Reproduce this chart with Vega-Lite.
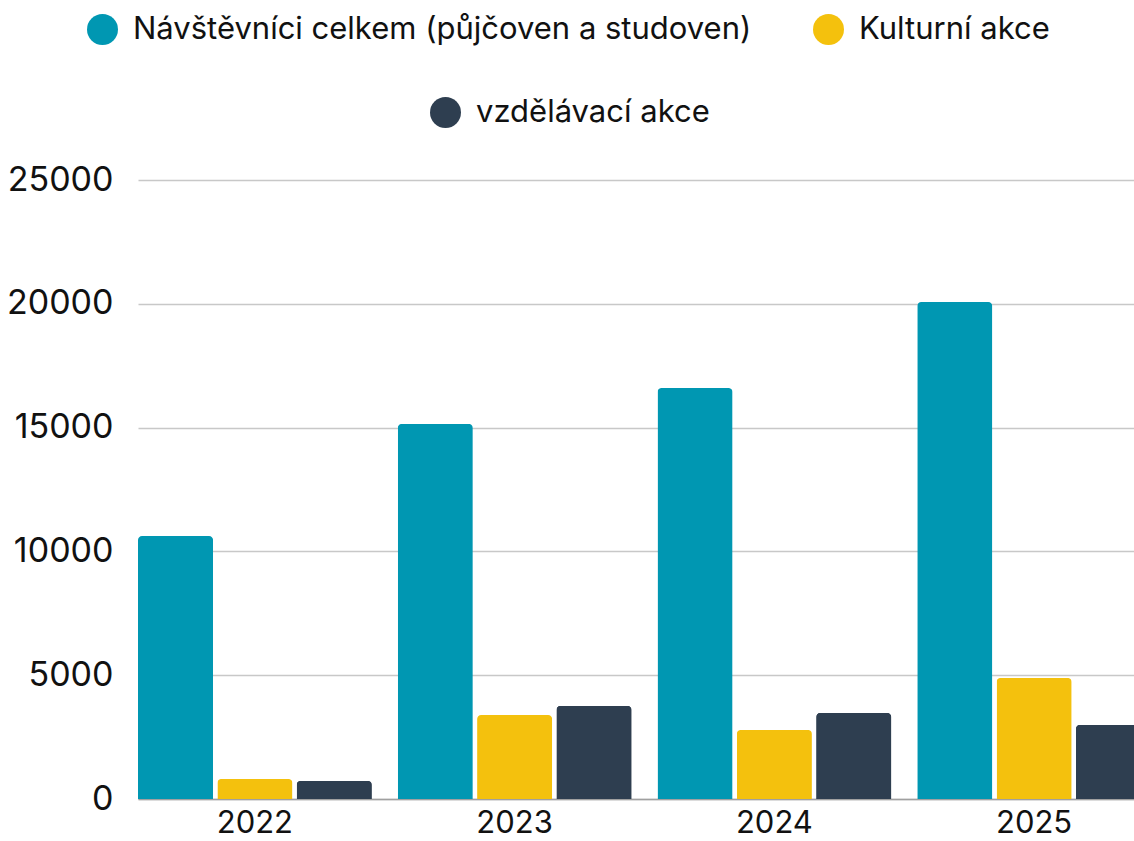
{
  "$schema": "https://vega.github.io/schema/vega-lite/v6.json",
  "autosize": "none",
  "padding": {"left": 138, "top": 180, "right": 0, "bottom": 42},
  "width": 1013,
  "height": 619,
  "background": "white",
  "data": {
    "values": [
      {"rok": "2022", "serie": "Návštěvníci celkem (půjčoven a studoven)", "pocet": 10620},
      {"rok": "2022", "serie": "Kulturní akce", "pocet": 810},
      {"rok": "2022", "serie": "vzdělávací akce", "pocet": 730},
      {"rok": "2023", "serie": "Návštěvníci celkem (půjčoven a studoven)", "pocet": 15150},
      {"rok": "2023", "serie": "Kulturní akce", "pocet": 3390},
      {"rok": "2023", "serie": "vzdělávací akce", "pocet": 3760},
      {"rok": "2024", "serie": "Návštěvníci celkem (půjčoven a studoven)", "pocet": 16600},
      {"rok": "2024", "serie": "Kulturní akce", "pocet": 2790},
      {"rok": "2024", "serie": "vzdělávací akce", "pocet": 3470},
      {"rok": "2025", "serie": "Návštěvníci celkem (půjčoven a studoven)", "pocet": 20070},
      {"rok": "2025", "serie": "Kulturní akce", "pocet": 4890},
      {"rok": "2025", "serie": "vzdělávací akce", "pocet": 2990}
    ]
  },
  "encoding": {
    "x": {
      "field": "rok", "type": "nominal", "title": null,
      "scale": {"paddingInner": 0.1, "paddingOuter": 0},
      "axis": {"labelAngle": 0, "ticks": false, "domain": true, "domainColor": "#a0a0a0", "domainWidth": 1.5, "labelPadding": 9, "labelFontSize": 31, "labelColor": "#111111", "grid": false}
    },
    "xOffset": {
      "field": "serie", "type": "nominal",
      "scale": {"domain": ["Návštěvníci celkem (půjčoven a studoven)", "Kulturní akce", "vzdělávací akce"], "paddingInner": 0.054, "paddingOuter": 0}
    },
    "y": {
      "field": "pocet", "type": "quantitative", "title": null,
      "scale": {"domain": [0, 25000], "nice": false},
      "axis": {"values": [0, 5000, 10000, 15000, 20000, 25000], "ticks": false, "domain": false, "labelPadding": 25, "labelFontSize": 34, "labelColor": "#111111", "gridColor": "#c8c8c8", "gridWidth": 1.5, "format": "d"}
    }
  },
  "layer": [
    {
      "mark": {"type": "bar", "cornerRadiusTopLeft": 4, "cornerRadiusTopRight": 4},
      "encoding": {
        "color": {
          "field": "serie", "type": "nominal",
          "scale": {"domain": ["Návštěvníci celkem (půjčoven a studoven)", "Kulturní akce", "vzdělávací akce"], "range": ["#0097b2", "#f4c10d", "#2e3e50"]},
          "legend": {"title": null, "values": ["Návštěvníci celkem (půjčoven a studoven)", "Kulturní akce"], "orient": "none", "direction": "horizontal", "legendX": -51, "legendY": -166, "symbolType": "circle", "symbolSize": 960, "symbolStrokeWidth": 0, "labelFontSize": 31, "labelColor": "#111111", "labelOffset": 15, "columnPadding": 61, "labelLimit": 900}
        }
      }
    },
    {
      "transform": [{"filter": "datum.serie === 'vzdělávací akce'"}],
      "mark": {"type": "bar", "cornerRadiusTopLeft": 4, "cornerRadiusTopRight": 4},
      "encoding": {
        "fill": {
          "field": "serie", "type": "nominal",
          "scale": {"domain": ["vzdělávací akce"], "range": ["#2e3e50"]},
          "legend": {"title": null, "orient": "none", "direction": "horizontal", "legendX": 292, "legendY": -83, "symbolType": "circle", "symbolSize": 960, "symbolStrokeWidth": 0, "labelFontSize": 31, "labelColor": "#111111", "labelOffset": 15, "labelLimit": 900}
        }
      }
    }
  ],
  "config": {
    "font": "Inter",
    "view": {"stroke": null},
    "axis": {"labelFont": "Inter"},
    "legend": {"labelFont": "Inter"}
  }
}
